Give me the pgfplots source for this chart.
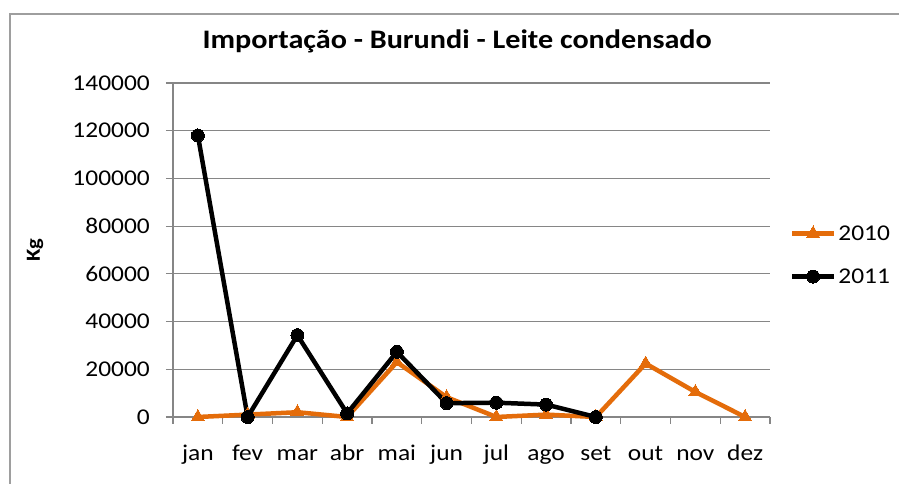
\documentclass[border=0pt]{standalone}
\usepackage{fontspec}
\setmainfont{Carlito}[FakeStretch=1.13]
\usepackage{pgfplots}
\pgfplotsset{compat=1.18}
\definecolor{xorange}{HTML}{E46C0A}
\definecolor{xgrid}{HTML}{868686}
\begin{document}
\begin{tikzpicture}
\useasboundingbox (0pt,0pt) rectangle (899pt,484pt);
\fill[white] (0pt,0pt) rectangle (899pt,484pt);
\draw[xgrid!80, line width=2pt] (10pt,-10pt) |- (910pt,470pt);
\begin{axis}[
  at={(173pt,67pt)}, anchor=south west,
  scale only axis, width=597pt, height=334pt,
  xmin=-0.5, xmax=11.5, ymin=0, ymax=140000,
  xtick={0,...,11},
  xticklabels={jan,fev,mar,abr,mai,jun,jul,ago,set,out,nov,dez},
  minor xtick={-0.5,0.5,...,11.5},
  ytick={0,20000,40000,60000,80000,100000,120000,140000},
  yticklabels={0,20000,40000,60000,80000,100000,120000,140000},
  scaled y ticks=false,
  axis x line*=bottom, axis y line*=left,
  axis line style={draw=xgrid, line width=1.2pt, -},
  ymajorgrids, grid style={draw=xgrid, line width=1.2pt},
  tick align=outside,
  major tick length=7pt, minor tick length=7pt,
  tick style={draw=xgrid, line width=1.2pt},
  every major x tick/.append style={draw=none},
  ticklabel style={font=\fontsize{22.5}{26}\selectfont},
  yticklabel style={anchor=east, inner sep=0pt, xshift=-16pt},
  xticklabel style={anchor=base, inner sep=0pt, yshift=-37pt},
  title={\bfseries Importação - Burundi - Leite condensado},
  title style={font=\fontsize{26.7}{30}\selectfont, at={(axis description cs:0.476,1.108)}, anchor=center},
  ylabel={\bfseries Kg},
  ylabel style={font=\fontsize{20}{24}\selectfont, at={(axis description cs:-0.231,0.5)}, anchor=center, rotate=0},
  legend style={draw=none, fill=none, at={(1.033,0.485)}, anchor=west,
    font=\fontsize{22.5}{26}\selectfont, row sep=23pt, inner sep=0pt,
    /tikz/every even column/.style={column sep=6pt}},
  legend cell align=left,
  legend image code/.code={\draw[mark repeat=2,mark phase=2] plot coordinates {(0pt,0pt) (21pt,0pt) (42pt,0pt)};},
  clip=false,
]
\addplot[color=xorange, line width=4.5pt, mark=triangle*, mark size=7.5pt, mark options={solid, line width=0pt}]
  coordinates {(0,0) (1,1000) (2,2000) (3,0) (4,23000) (5,8300) (6,0) (7,1000) (8,0) (9,22400) (10,10500) (11,0)};
\addlegendentry{2010}
\addplot[color=black, line width=4.5pt, mark=*, mark size=6.5pt, mark options={solid, line width=0pt}]
  coordinates {(0,118000) (1,0) (2,34300) (3,1500) (4,27300) (5,5800) (6,6000) (7,5200) (8,0)};
\addlegendentry{2011}
\end{axis}
\end{tikzpicture}
\end{document}
